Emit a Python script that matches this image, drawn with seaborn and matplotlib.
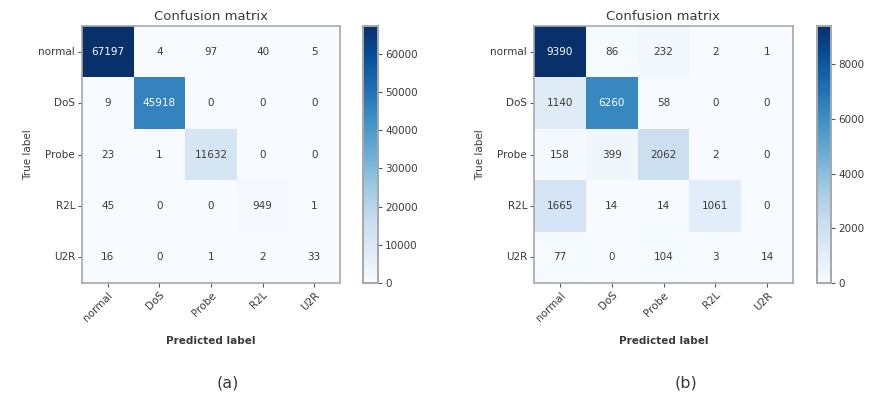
import numpy as np
import pandas as pd
import matplotlib
matplotlib.use("Agg")
import matplotlib.pyplot as plt
import seaborn as sns

classes = ["normal", "DoS", "Probe", "R2L", "U2R"]

cm_a = [
    [67197, 4, 97, 40, 5],
    [9, 45918, 0, 0, 0],
    [23, 1, 11632, 0, 0],
    [45, 0, 0, 949, 1],
    [16, 0, 1, 2, 33],
]
cm_b = [
    [9390, 86, 232, 2, 1],
    [1140, 6260, 58, 0, 0],
    [158, 399, 2062, 2, 0],
    [1665, 14, 14, 1061, 0],
    [77, 0, 104, 3, 14],
]
ticks_a = [0, 10000, 20000, 30000, 40000, 50000, 60000]
ticks_b = [0, 2000, 4000, 6000, 8000]
panel_tags = ["(a)", "(b)"]

sns.set_theme(style="white")
plt.rcParams["font.family"] = ["DejaVu Sans"]

W, H = 871, 400
fig = plt.figure(figsize=(W / 100, H / 100), dpi=100)


def box(x0, y0, x1, y1):
    return [x0 / W, 1 - y1 / H, (x1 - x0) / W, (y1 - y0) / H]


panels = [
    (cm_a, ticks_a, box(82, 26, 340, 283), box(363, 26, 378, 283), 228),
    (cm_b, ticks_b, box(534, 26, 793, 283), box(817, 26, 831, 283), 686),
]

frame_col = "#a8a8a8"
text_col = "#3a3a3a"

for (mat, cticks, apos, cpos, tag_x), tag in zip(panels, panel_tags):
    ax = fig.add_axes(apos)
    cax = fig.add_axes(cpos)
    df = pd.DataFrame(mat, index=classes, columns=classes)
    vmax = float(np.max(mat))
    sns.heatmap(
        df, ax=ax, cbar_ax=cax, cmap="Blues", vmin=0, vmax=vmax,
        annot=True, fmt="d", annot_kws={"fontsize": 7.5},
        cbar_kws={"ticks": cticks}, square=False,
    )
    # Annotation colour: white on dark cells, dark grey elsewhere
    thresh = vmax / 2.0
    for t, v in zip(ax.texts, np.array(mat).ravel()):
        t.set_color("white" if v > thresh else text_col)
    for s in ax.spines.values():
        s.set_visible(True)
        s.set_color(frame_col)
        s.set_linewidth(1.2)
    ax.tick_params(axis="both", which="both", length=3, width=0.8,
                   color="#555555", labelsize=7.5, labelcolor=text_col,
                   bottom=True, left=True, pad=2)
    ax.set_xticklabels(classes, rotation=45, ha="right",
                       rotation_mode="anchor")
    ax.set_yticklabels(classes, rotation=0)
    ax.set_title("Confusion matrix", fontsize=9.5, color=text_col, pad=4)
    ax.set_xlabel("Predicted label", fontsize=7.5, color=text_col,
                  fontweight="bold", labelpad=9)
    ax.set_ylabel("True label", fontsize=7.5, color=text_col, labelpad=4)

    cax.tick_params(labelsize=7.5, labelcolor=text_col, length=3, width=0.8,
                    color="#555555", pad=2)
    cax.yaxis.set_ticks_position("right")
    for s in cax.spines.values():
        s.set_visible(True)
        s.set_color(frame_col)
    cb = ax.collections[0].colorbar
    cb.outline.set_visible(True)
    cb.outline.set_edgecolor(frame_col)
    cb.outline.set_linewidth(1.2)

    fig.text(tag_x / W, 1 - 383 / H, tag, ha="center", va="center",
             fontsize=11.5, color=text_col)

fig.savefig("out.png", dpi=100, facecolor="white")
